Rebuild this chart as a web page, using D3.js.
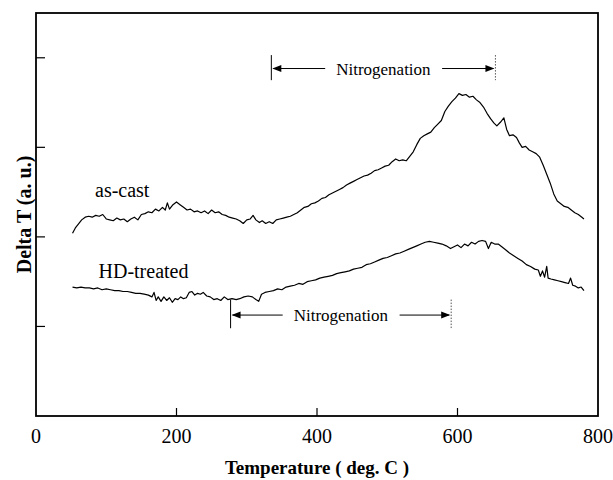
<!DOCTYPE html>
<meta charset="utf-8">
<style>
body { margin: 0; background: #fff; }
svg text { font-family: "Liberation Serif", "Times New Roman", serif; fill: #000; }
.frame { fill: none; stroke: #000; stroke-width: 1.8px; }
.tick { stroke: #000; stroke-width: 1.2px; }
.trace { fill: none; stroke: #000; stroke-width: 1.2px; stroke-linejoin: round; }
.ann { stroke: #000; stroke-width: 1px; }
</style>
<svg width="613" height="480"></svg>
<script src="https://d3js.org/d3.v7.min.js"></script>
<script>

// ---- data ----
var asCastT = [52,56,60,65,70,75,80,85,90,95,100,105,110,115,120,125,130,135,140,145,150,155,160,165,170,175,180,184,187,190,195,200,205,210,215,220,225,230,235,240,245,250,255,260,265,270,275,280,285,290,295,300,305,309,313,318,322,327,332,337,342,347,352,357,362,367,372,377,382,387,392,397,402,407,412,417,422,427,432,437,442,447,452,457,462,467,472,477,482,487,492,497,502,507,512,517,522,527,532,537,542,547,552,557,562,567,572,577,582,587,592,597,602,607,612,617,622,627,632,637,642,647,652,656,661,666,670,674,679,684,688,692,697,702,707,712,717,722,727,732,737,742,747,752,757,762,767,772,777,780];
var asCastV = [2.04,2.10,2.14,2.19,2.22,2.23,2.22,2.24,2.23,2.25,2.20,2.19,2.18,2.21,2.19,2.20,2.17,2.20,2.22,2.19,2.25,2.26,2.28,2.27,2.31,2.29,2.33,2.30,2.38,2.31,2.36,2.39,2.36,2.33,2.30,2.31,2.28,2.29,2.27,2.29,2.26,2.30,2.27,2.28,2.25,2.24,2.22,2.21,2.20,2.18,2.15,2.19,2.20,2.24,2.19,2.16,2.18,2.15,2.17,2.15,2.19,2.20,2.21,2.22,2.23,2.25,2.27,2.30,2.33,2.34,2.37,2.38,2.40,2.43,2.44,2.47,2.49,2.51,2.53,2.55,2.58,2.60,2.62,2.64,2.66,2.68,2.69,2.71,2.74,2.75,2.77,2.79,2.80,2.84,2.87,2.85,2.86,2.85,2.90,2.95,3.03,3.10,3.13,3.15,3.17,3.22,3.26,3.30,3.40,3.46,3.51,3.55,3.60,3.58,3.59,3.56,3.57,3.53,3.50,3.45,3.38,3.32,3.27,3.24,3.28,3.33,3.20,3.13,3.14,3.11,3.05,3.00,3.01,2.97,2.95,2.93,2.89,2.80,2.70,2.60,2.48,2.40,2.37,2.34,2.33,2.30,2.27,2.25,2.22,2.20];

var hdT = [52,58,64,70,76,82,88,94,100,106,112,118,124,130,136,142,148,154,160,165,168,171,174,178,182,186,190,194,198,202,206,210,214,218,222,226,230,234,238,243,248,253,258,263,268,273,279,285,290,296,302,308,313,317,321,326,332,338,344,350,356,362,368,374,380,386,392,398,404,410,416,422,428,434,440,446,452,458,464,470,476,482,488,494,500,506,512,518,524,530,536,542,548,554,560,566,572,578,584,590,595,600,605,610,615,620,625,630,635,640,644,648,653,658,663,668,674,680,686,692,698,704,710,715,718,721,724,727,729,733,738,743,748,753,758,761,764,768,772,776,780];
var hdV = [1.44,1.43,1.44,1.43,1.43,1.42,1.43,1.41,1.42,1.41,1.40,1.40,1.39,1.39,1.38,1.37,1.37,1.36,1.35,1.33,1.38,1.29,1.33,1.28,1.33,1.29,1.32,1.27,1.31,1.30,1.33,1.31,1.32,1.38,1.39,1.35,1.37,1.36,1.38,1.34,1.33,1.30,1.31,1.29,1.33,1.30,1.31,1.30,1.31,1.33,1.34,1.33,1.30,1.28,1.36,1.38,1.39,1.40,1.42,1.41,1.44,1.45,1.46,1.48,1.47,1.50,1.51,1.52,1.54,1.55,1.56,1.57,1.59,1.60,1.61,1.62,1.64,1.65,1.66,1.69,1.70,1.72,1.74,1.76,1.77,1.79,1.81,1.82,1.84,1.86,1.88,1.90,1.92,1.94,1.95,1.94,1.93,1.92,1.90,1.87,1.89,1.91,1.88,1.92,1.90,1.94,1.92,1.95,1.96,1.95,1.87,1.94,1.92,1.92,1.89,1.86,1.82,1.79,1.76,1.73,1.69,1.67,1.64,1.63,1.56,1.62,1.55,1.67,1.54,1.53,1.52,1.51,1.50,1.49,1.48,1.54,1.46,1.45,1.43,1.44,1.40];

var xTicks = [0, 200, 400, 600, 800];
var yTicks = [1, 2, 3, 4];

// curve labels: [text, temperature, value]
var curveLabels = [["as-cast", 84, 2.44], ["HD-treated", 89, 1.54]];

// nitrogenation ranges: start T, end T, arrow level, bar top, bar bottom
var nitroStart = [335, 277];
var nitroEnd = [654, 591];
var nitroLevel = [3.88, 1.127];
var nitroBarTop = [4.03, 1.30];
var nitroBarBottom = [3.75, 0.98];

// ---- layout ----
var svg = d3.select("svg");
var x = d3.scaleLinear().domain([0, 800]).range([36, 598]);
var y = d3.scaleLinear().domain([0, 4.5]).range([416, 13]);

// frame
svg.append("rect").attr("class", "frame")
  .attr("x", x(0)).attr("y", y(4.5))
  .attr("width", x(800) - x(0)).attr("height", y(0) - y(4.5));

// inward ticks on bottom
svg.selectAll(".xt").data(xTicks.slice(1, -1)).enter().append("line")
  .attr("class", "tick")
  .attr("x1", d => x(d)).attr("x2", d => x(d))
  .attr("y1", y(0)).attr("y2", y(0) - 8);

svg.selectAll(".xl").data(xTicks).enter().append("text")
  .attr("x", d => x(d)).attr("y", 443)
  .attr("text-anchor", "middle")
  .style("font-size", "20px")
  .text(d => d);

// inward ticks on left, no labels
svg.selectAll(".yt").data(yTicks).enter().append("line")
  .attr("class", "tick")
  .attr("x1", x(0)).attr("x2", x(0) + 9)
  .attr("y1", d => y(d)).attr("y2", d => y(d));

// axis titles
svg.append("text")
  .attr("x", (x(0) + x(800)) / 2).attr("y", 474)
  .attr("text-anchor", "middle")
  .style("font-size", "19px").style("font-weight", "bold")
  .text("Temperature ( deg. C )");

svg.append("text")
  .attr("transform", "translate(31," + ((y(0) + y(4.5)) / 2) + ") rotate(-90)")
  .attr("text-anchor", "middle")
  .style("font-size", "20px").style("font-weight", "bold")
  .text("Delta T (a. u.)");

// traces
var line = d3.line().x(d => x(d[0])).y(d => y(d[1]));
svg.append("path").attr("class", "trace")
  .attr("d", line(d3.zip(asCastT, asCastV)));
svg.append("path").attr("class", "trace")
  .attr("d", line(d3.zip(hdT, hdV)));

// curve labels
svg.selectAll(".cl").data(curveLabels).enter().append("text")
  .attr("x", d => x(d[1])).attr("y", d => y(d[2]))
  .style("font-size", "20px")
  .text(d => d[0]);

// nitrogenation annotations
function arrowHead(g, tipX, tipY, dir) {
  g.append("path")
    .attr("d", "M" + tipX + "," + tipY +
      "L" + (tipX - dir * 9) + "," + (tipY - 3.5) +
      "L" + (tipX - dir * 9) + "," + (tipY + 3.5) + "Z")
    .attr("fill", "#000");
}

nitroStart.forEach(function(s, i) {
  var g = svg.append("g");
  var x0 = x(s), x1 = x(nitroEnd[i]), ly = y(nitroLevel[i]);
  var label = g.append("text")
    .attr("x", (x0 + x1) / 2).attr("y", ly + 6)
    .attr("text-anchor", "middle")
    .style("font-size", "17px")
    .text("Nitrogenation");
  var bb = label.node().getBBox();
  g.append("line").attr("class", "ann")
    .attr("x1", x0).attr("x2", x0)
    .attr("y1", y(nitroBarTop[i])).attr("y2", y(nitroBarBottom[i]));
  g.append("line").attr("class", "ann")
    .attr("x1", x1).attr("x2", x1)
    .attr("y1", y(nitroBarTop[i])).attr("y2", y(nitroBarBottom[i]))
    .style("stroke", "#555").style("stroke-dasharray", "1.5,1.5");
  g.append("line").attr("class", "ann")
    .attr("x1", x0 + 2).attr("x2", bb.x - 11)
    .attr("y1", ly).attr("y2", ly);
  g.append("line").attr("class", "ann")
    .attr("x1", bb.x + bb.width + 11).attr("x2", x1 - 2)
    .attr("y1", ly).attr("y2", ly);
  arrowHead(g, x0 + 1, ly, -1);
  arrowHead(g, x1 - 1, ly, 1);
});

</script>
